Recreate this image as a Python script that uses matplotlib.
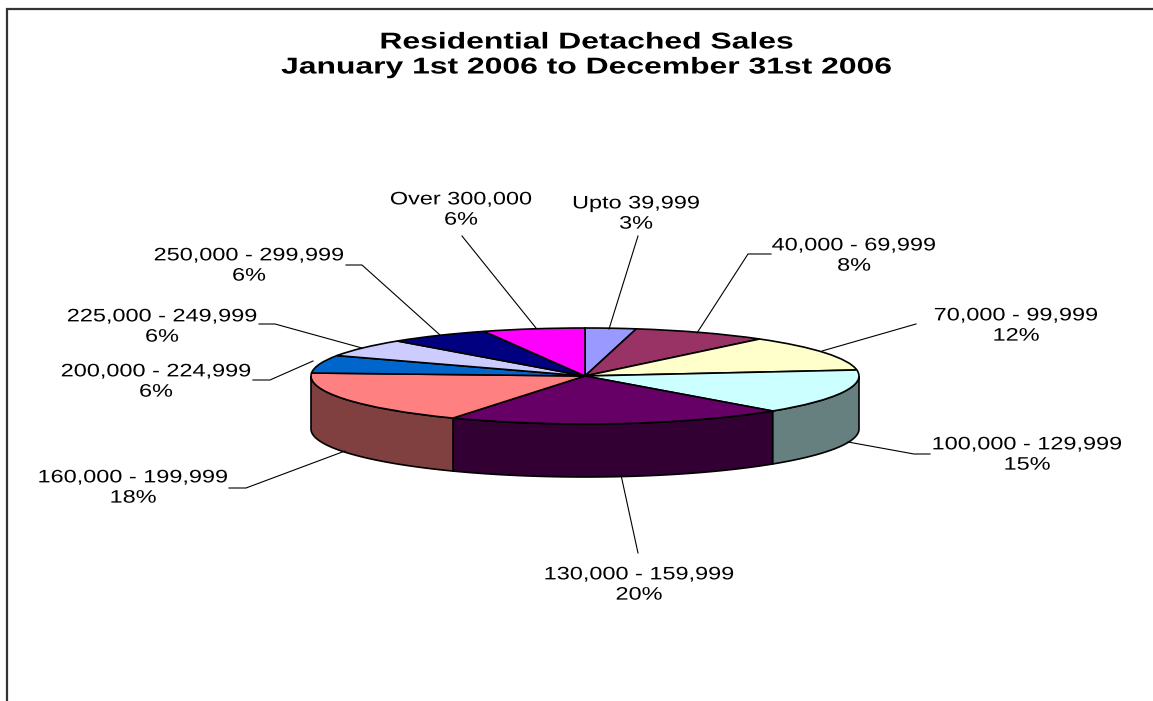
import numpy as np
import matplotlib
matplotlib.use("Agg")
import matplotlib.pyplot as plt
from matplotlib.patheffects import AbstractPathEffect
from matplotlib.transforms import Affine2D

plt.rcParams['font.family'] = ['Liberation Sans', 'DejaVu Sans']

title_lines = ["Residential Detached Sales", "January 1st 2006 to December 31st 2006"]
price_bands = ["Upto 39,999", "40,000 - 69,999", "70,000 - 99,999", "100,000 - 129,999",
               "130,000 - 159,999", "160,000 - 199,999", "200,000 - 224,999",
               "225,000 - 249,999", "250,000 - 299,999", "Over 300,000"]
shares = [3, 8, 12, 15, 20, 18, 6, 6, 6, 6]
top_colors = ["#9999FF", "#993366", "#FFFFCC", "#CCFFFF", "#660066",
              "#FF8080", "#0066CC", "#CCCCFF", "#000080", "#FF00FF"]
side_colors = ["#4D4D80", "#4D1A33", "#808066", "#668080", "#330033",
               "#804040", "#003366", "#666680", "#000040", "#800080"]

W, H = 1153, 701
# ellipse of the pie top, in pixels
cx, cy, rx, ry, depth = 585, 376, 274, 48, 53


class WideText(AbstractPathEffect):
    """Widen glyphs about a fixed display x, text has no width setting of its own."""
    def __init__(self, x0, factor):
        super().__init__()
        self.x0 = x0
        self.factor = factor

    def draw_path(self, renderer, gc, tpath, affine, rgbFace=None):
        wide = affine + Affine2D().translate(-self.x0, 0).scale(self.factor, 1).translate(self.x0, 0)
        renderer.draw_path(gc, tpath, wide, rgbFace)


fig = plt.figure(figsize=(W / 100, H / 100), dpi=100)

# pie axes: one data unit is rx across and ry down, so the pie lies flat
ax = fig.add_axes([0, 0, 1, 1])
ax.pie(shares, colors=top_colors, startangle=90, counterclock=False, radius=1,
       wedgeprops=dict(edgecolor="black", linewidth=1.2, zorder=3))
ax.set_aspect("auto")
ax.set_xlim(-cx / rx, (W - cx) / rx)
ax.set_ylim(-(H - cy) / ry, cy / ry)
ax.axis("off")

# side wall, only the front half of the rim is visible
drop = depth / ry
edges = np.cumsum([0] + shares) / sum(shares) * 360
for start, stop, col in zip(edges[:-1], edges[1:], side_colors):
    a0, a1 = max(start, 90), min(stop, 270)
    if a1 <= a0:
        continue
    t = np.radians(np.linspace(a0, a1, 60))
    x, y = np.sin(t), np.cos(t)
    ax.fill(np.r_[x, x[::-1]], np.r_[y, y[::-1] - drop], facecolor=col,
            edgecolor="black", linewidth=1.2, zorder=2)

# overlay in pixel coordinates for frame, leaders and text
ov = fig.add_axes([0, 0, 1, 1])
ov.set_xlim(0, W)
ov.set_ylim(H, 0)
ov.axis("off")
ov.patch.set_alpha(0)

ov.plot([7, 7, W], [H, 9, 9], color="#333333", linewidth=1.6, solid_joinstyle="miter")

for i, line in enumerate(title_lines):
    ov.text(586, 42 + i * 25, line, ha="center", va="center", fontsize=16.5, fontweight="bold",
            path_effects=[WideText(586, 1.39)])

label_x = [636, 854, 1016, 1027, 639, 133, 156, 162, 249, 461]
label_y = [214, 256, 326, 455, 585, 488, 382, 327, 266, 210]
leader_paths = [
    ([638, 609], [236, 329]),
    ([771, 748, 697], [254, 254, 333]),
    ([916, 822], [324, 351]),
    ([930, 914, 848], [454, 454, 442]),
    ([638, 621], [553, 475]),
    ([229, 246, 345], [488, 488, 451]),
    ([253, 270, 313], [380, 380, 361]),
    ([259, 275, 362], [324, 324, 348]),
    ([346, 362, 440], [265, 265, 335]),
    ([462, 536], [236, 328]),
]
for (lx, ly) in leader_paths:
    ov.plot(lx, ly, color="black", linewidth=0.8)

for band, pct, x, y in zip(price_bands, shares, label_x, label_y):
    ov.text(x, y, f"{band}\n{pct}%", ha="center", va="center", fontsize=13, linespacing=1.25,
            path_effects=[WideText(x, 1.3)])

fig.savefig("out.png", dpi=100)
